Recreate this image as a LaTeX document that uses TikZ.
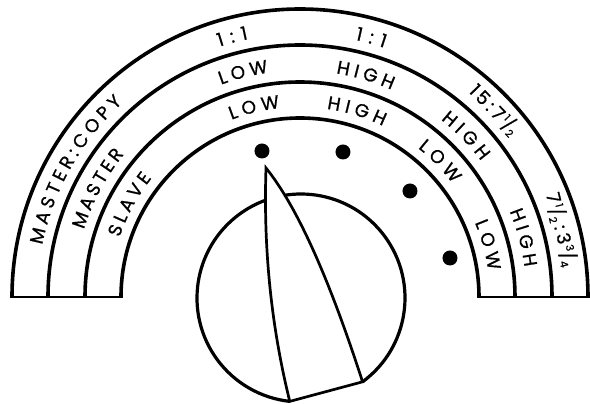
\documentclass[tikz,border=0pt]{standalone}
\usepackage{fontspec}
\newfontfamily\popp{Poppins}[FakeBold=0.8]
\usetikzlibrary{decorations.text,calc}
\newcommand\lbl{\fontsize{18.5}{18.5}\selectfont\popp}
\newcommand\myfr[2]{\raisebox{0.65ex}{\fontsize{10.5}{10.5}\selectfont#1}{\fontsize{17}{17}\selectfont/}\raisebox{-0.3ex}{\fontsize{10.5}{10.5}\selectfont#2}}
\newcommand\arclabel[4]{%
  \pgfmathsetmacro\halfspan{#3/#1*28.6479}%
  \pgfmathsetmacro\sa{#2+\halfspan}%
  \pgfmathsetmacro\ea{#2-\halfspan}%
  \path[decorate,decoration={text along path,text={|\lbl|#4},text align=fit to path}]
    (\sa:#1pt) arc[start angle=\sa,end angle=\ea,radius=#1pt];%
}
\tikzset{
  band/.style={line width=3.6pt},
  baseline/.style={line width=2.7pt},
  knob/.style={line width=3.2pt},
  ptr/.style={line width=2.7pt, line join=miter, miter limit=20},
  dot/.style={fill=black}
}
\begin{document}
\begin{tikzpicture}[x=1pt,y=1pt]
\useasboundingbox (-300,-107) rectangle (290,297);
\fill[white] (-300,-107) rectangle (290,297);
% bands
\foreach \r in {288,252,215,179}
  \draw[band] (\r pt,0) arc[start angle=0,end angle=180,radius=\r pt];
\draw[baseline] (-289.8,0) -- (-177.2,0);
\draw[baseline] (177.2,0) -- (289.8,0);
% labels outer band
\arclabel{263}{150.5}{166}{MASTER:COPY}
\arclabel{263}{104.6}{30}{1:1}
\arclabel{263}{74.6}{30}{1:1}
\node[rotate=-46,font=\lbl,inner sep=0pt] (r1) at (44:270pt) {1\kern3pt5\kern3.5pt:\kern3.5pt7\kern2.5pt\myfr12};
\node[rotate=-76,font=\lbl,inner sep=0pt] (r2) at (14.5:270pt) {7\kern2pt\myfr12\kern4pt:\kern4pt3\kern2pt\myfr34};
% middle band
\arclabel{226.5}{151.8}{86}{MASTER}
\arclabel{226.5}{104.2}{49}{LOW}
\arclabel{226.5}{73.5}{58}{HIGH}
\arclabel{226.5}{44.2}{58}{HIGH}
\arclabel{226.5}{14.9}{58}{HIGH}
% inner band
\arclabel{190}{151.5}{68}{SLAVE}
\arclabel{190}{103.6}{50}{LOW}
\arclabel{190}{73}{59}{HIGH}
\arclabel{190}{44.1}{50}{LOW}
\arclabel{190}{15.5}{50}{LOW}
% dots
\fill[dot] (-38,146) circle[radius=7.5pt];
\fill[dot] (43,145) circle[radius=7.5pt];
\fill[dot] (110,106) circle[radius=7.5pt];
\fill[dot] (150,39) circle[radius=7.5pt];
% knob
\coordinate (kc) at (1,-1);
\coordinate (pr) at ($(kc)+(-53.7:104pt)$);
\coordinate (pl) at ($(kc)+(263.8:104pt)$);
\coordinate (tip) at (-34,129);
\draw[knob] (pr) arc[start angle=-53.7,end angle=263.8,radius=104pt];
\draw[ptr,fill=white] (tip) .. controls (-3.3,91) and (28.7,20) .. (pr) -- (pl) .. controls (-28.7,-29.7) and (-36.7,47.7) .. (tip) -- cycle;
\end{tikzpicture}
\end{document}
